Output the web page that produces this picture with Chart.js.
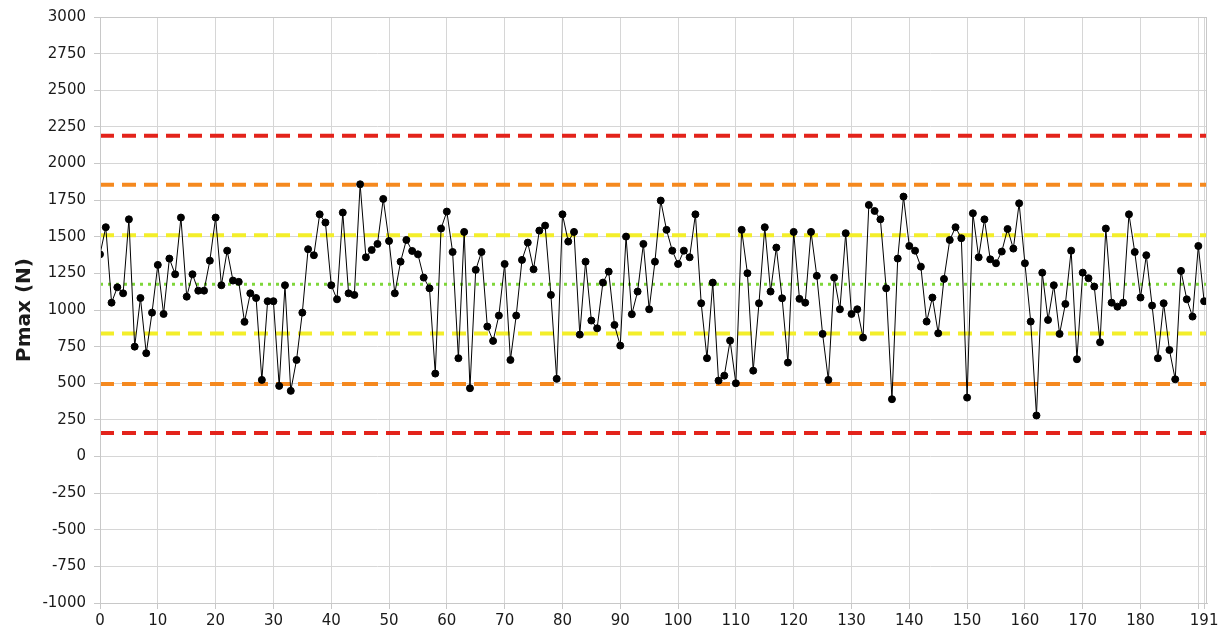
<!DOCTYPE html>
<html>
<head>
<meta charset="utf-8">
<script src="https://cdn.jsdelivr.net/npm/chart.js@4/dist/chart.umd.min.js"></script>
<style>
  html, body { margin: 0; padding: 0; background: #fff; }
  #wrap { width: 1228px; height: 636px; }
</style>
</head>
<body>
<div id="wrap"><canvas id="grafica-pmax"></canvas></div>
<script>
// Valores (muestra 0..191)
const pmax = [
  1380, 1565, 1050, 1155, 1114, 1619, 750, 1082, 705, 982,
  1308, 973, 1351, 1244, 1631, 1091, 1244, 1132, 1132, 1337,
  1631, 1169, 1405, 1201, 1192, 919, 1114, 1082, 523, 1060,
  1060, 482, 1169, 448, 659, 982, 1415, 1374, 1653, 1597,
  1169, 1073, 1665, 1114, 1103, 1858, 1360, 1410, 1451, 1758,
  1471, 1114, 1330, 1478, 1403, 1380, 1221, 1148, 566, 1556,
  1672, 1396, 671, 1533, 466, 1274, 1396, 887, 789, 962,
  1314, 659, 962, 1342, 1460, 1278, 1542, 1576, 1103, 530,
  1653, 1467, 1533, 832, 1330, 928, 875, 1187, 1262, 898,
  757, 1501, 971, 1126, 1451, 1005, 1330, 1747, 1547, 1405,
  1314, 1405, 1360, 1653, 1046, 671, 1187, 518, 552, 791,
  500, 1547, 1251, 586, 1046, 1565, 1126, 1426, 1080, 641,
  1533, 1076, 1050, 1533, 1233, 837, 523, 1221, 1005, 1524,
  973, 1005, 812, 1717, 1676, 1619, 1148, 391, 1351, 1774,
  1437, 1405, 1296, 921, 1085, 841, 1212, 1478, 1565, 1490,
  402, 1660, 1360, 1619, 1346, 1319, 1399, 1553, 1419, 1728,
  1319, 921, 280, 1255, 932, 1169, 837, 1041, 1405, 664,
  1255, 1217, 1160, 780, 1556, 1050, 1023, 1050, 1653, 1396,
  1085, 1374, 1030, 671, 1046, 727, 527, 1267, 1073, 955,
  1437, 1060
];

// Límites de control (media ± 1, 2, 3 sigma)
const media = 1175;
const limites3s = [2190, 160];
const limites2s = [1855, 495];
const limites1s = [1510, 840];

const xTicks = [0, 10, 20, 30, 40, 50, 60, 70, 80, 90, 100, 110, 120, 130, 140, 150, 160, 170, 180, 190, 191];
const xMax = 191.5;

const lineaH = v => [{ x: 0, y: v }, { x: xMax, y: v }];

const datasets = [
  {
    label: 'Pmax',
    data: pmax.map((v, i) => ({ x: i, y: v })),
    borderColor: '#000',
    backgroundColor: '#000',
    borderWidth: 1,
    pointRadius: 3.5,
    pointHoverRadius: 3.5,
    tension: 0
  }
];

function agregarLimites(valores, color, dash, ancho) {
  valores.forEach(v => {
    datasets.push({
      data: lineaH(v),
      borderColor: color,
      borderWidth: ancho,
      borderDash: dash,
      pointRadius: 0,
      fill: false
    });
  });
}

agregarLimites(limites3s, '#e3231b', [14, 8], 4);
agregarLimites(limites2s, '#f5891f', [14, 8], 4);
agregarLimites(limites1s, '#f3ee2a', [14, 8], 4);
agregarLimites([media], '#7ed63a', [3, 5], 3);

// Marco gris alrededor del área del gráfico
const marco = {
  id: 'marco',
  afterDraw(chart) {
    const { ctx, chartArea: a } = chart;
    ctx.save();
    ctx.strokeStyle = '#c8c8c8';
    ctx.lineWidth = 1;
    ctx.strokeRect(a.left + 0.5, a.top + 0.5, a.right - a.left - 1, a.bottom - a.top);
    ctx.restore();
  }
};

const ctx = document.getElementById('grafica-pmax').getContext('2d');
new Chart(ctx, {
  type: 'line',
  data: { datasets: datasets },
  options: {
    responsive: true,
    maintainAspectRatio: false,
    animation: false,
    events: [],
    layout: { padding: { top: 17, right: 21, left: 0, bottom: 0 } },
    plugins: { legend: { display: false }, tooltip: { enabled: false } },
    scales: {
      x: {
        type: 'linear',
        min: 0,
        max: xMax,
        afterBuildTicks: s => { s.ticks = xTicks.map(v => ({ value: v })); },
        afterFit: s => { s.height = 33; },
        grid: { color: '#d6d6d6', tickLength: 6, tickColor: '#c8c8c8' },
        border: { color: '#c8c8c8' },
        ticks: {
          autoSkip: false,
          maxRotation: 0,
          padding: 3,
          color: '#1a1a1a',
          font: { family: 'DejaVu Sans', size: 15 },
          callback: v => (v === 190 ? '' : String(v))
        }
      },
      y: {
        min: -1000,
        max: 3000,
        afterFit: s => { s.width = 100; },
        grid: { color: '#d6d6d6', tickLength: 6, tickColor: '#c8c8c8' },
        border: { color: '#c8c8c8' },
        ticks: {
          stepSize: 250,
          padding: 8,
          color: '#1a1a1a',
          font: { family: 'DejaVu Sans', size: 15 },
          callback: v => String(v)
        },
        title: {
          display: true,
          text: 'Pmax (N)',
          color: '#1a1a1a',
          padding: { top: 13, bottom: 0 },
          font: { family: 'DejaVu Sans', size: 20, weight: 'bold' }
        }
      }
    }
  },
  plugins: [marco]
});
</script>
</body>
</html>
